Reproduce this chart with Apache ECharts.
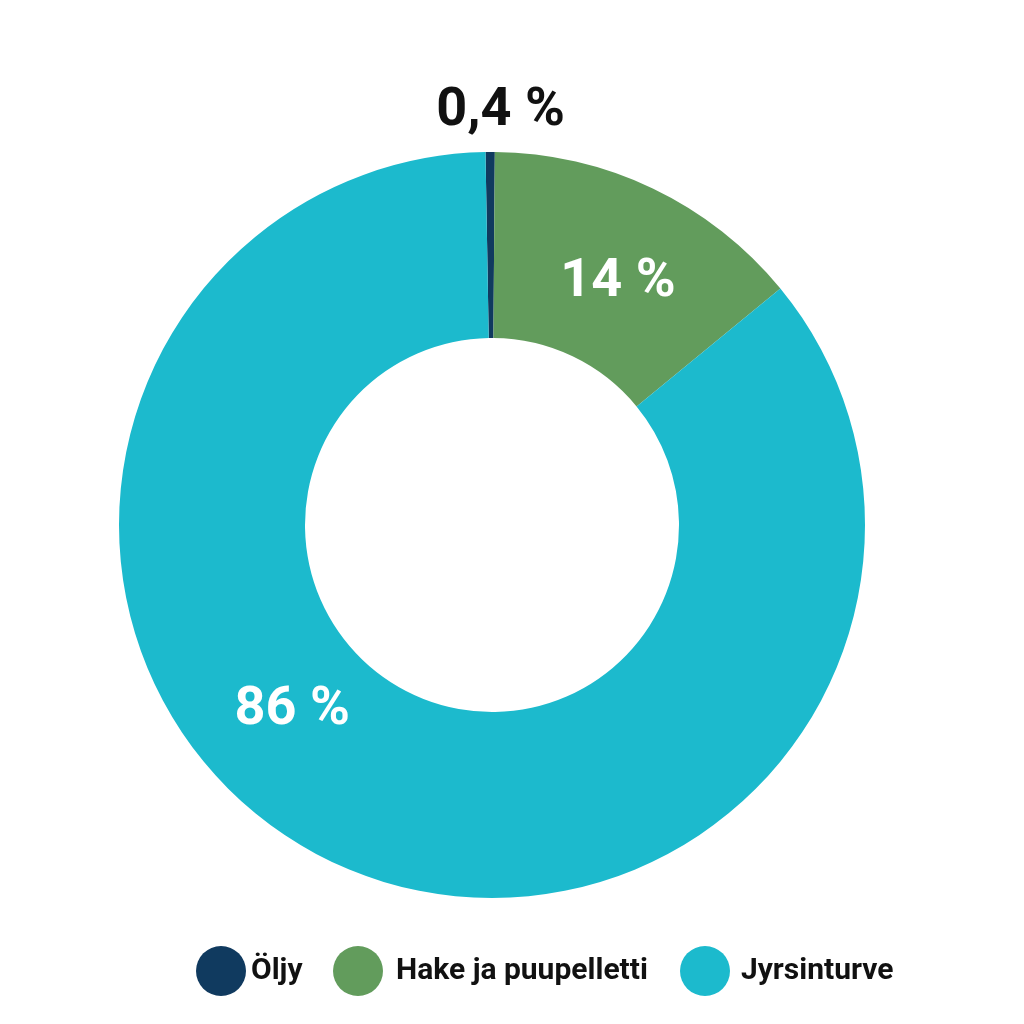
<!DOCTYPE html>
<html>
<head>
<meta charset="utf-8">
<script src="https://cdn.jsdelivr.net/npm/echarts@6/dist/echarts.min.js"></script>
<style>
html,body{margin:0;padding:0;background:#fff;}
#chart{width:1024px;height:1024px;}
</style>
</head>
<body>
<div id="chart"></div>
<script>
const categories = ['Öljy', 'Hake ja puupelletti', 'Jyrsinturve'];
const values = [0.4, 14, 86];
const colors = ['#103a5f', '#629c5c', '#1cbacd'];
const labelColors = ['#111111', '#ffffff', '#ffffff'];
// label nudges from the default inside position (pixels)
const labelShift = [[10, -131], [4, 13], [-81, -71]];
// left edge of each legend entry and extra icon-text gap (pixels)
const legendLeft = [196, 333, 680];
const legendTextGap = [0, 8, 6];

const chart = echarts.init(document.getElementById('chart'), null, {renderer: 'canvas'});
const FONT = 'Roboto, "Open Sans", sans-serif';

chart.setOption({
  backgroundColor: '#ffffff',
  animation: false,
  legend: categories.map(function (name, i) {
    return {
      left: legendLeft[i],
      top: 946,
      padding: 0,
      icon: 'circle',
      itemWidth: 50,
      itemHeight: 50,
      textStyle: {
        fontFamily: FONT, fontSize: 30, fontWeight: 'bold', color: '#111111',
        padding: [0, 0, 0, legendTextGap[i]]
      },
      data: [name]
    };
  }),
  series: [{
    type: 'pie',
    center: [492, 525],
    radius: [187, 373],
    startAngle: 91,
    clockwise: true,
    avoidLabelOverlap: false,
    labelLine: {show: false},
    label: {
      show: true,
      position: 'inside',
      fontFamily: FONT,
      fontSize: 54,
      fontWeight: 'bold',
      formatter: function (p) { return String(p.value).replace('.', ',') + ' %'; }
    },
    labelLayout: function (p) {
      const s = labelShift[p.dataIndex];
      return {dx: s[0], dy: s[1]};
    },
    emphasis: {disabled: true},
    data: categories.map(function (name, i) {
      return {
        name: name,
        value: values[i],
        itemStyle: {color: colors[i]},
        label: {color: labelColors[i]}
      };
    })
  }]
});
</script>
</body>
</html>
